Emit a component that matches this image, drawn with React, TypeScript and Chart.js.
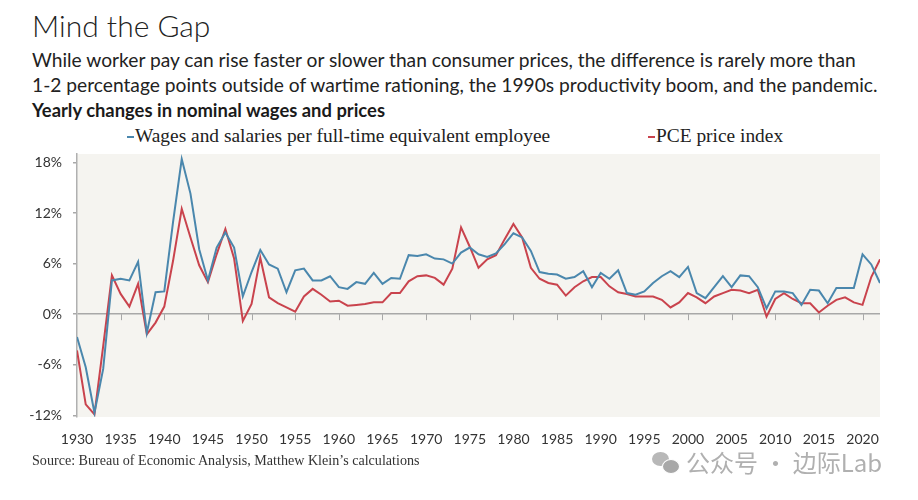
import React, { useEffect, useRef } from "react";
import { Chart, registerables } from "chart.js";

Chart.register(...registerables);

const years = [
  1930, 1931, 1932, 1933, 1934, 1935, 1936, 1937, 1938, 1939,
  1940, 1941, 1942, 1943, 1944, 1945, 1946, 1947, 1948, 1949,
  1950, 1951, 1952, 1953, 1954, 1955, 1956, 1957, 1958, 1959,
  1960, 1961, 1962, 1963, 1964, 1965, 1966, 1967, 1968, 1969,
  1970, 1971, 1972, 1973, 1974, 1975, 1976, 1977, 1978, 1979,
  1980, 1981, 1982, 1983, 1984, 1985, 1986, 1987, 1988, 1989,
  1990, 1991, 1992, 1993, 1994, 1995, 1996, 1997, 1998, 1999,
  2000, 2001, 2002, 2003, 2004, 2005, 2006, 2007, 2008, 2009,
  2010, 2011, 2012, 2013, 2014, 2015, 2016, 2017, 2018, 2019,
  2020, 2021, 2022,
];

const wages = [
  -2.7, -6.3, -11.7, -6.5, 4.0, 4.2, 4.0, 6.2, -2.2, 2.6,
  2.7, 10.9, 18.4, 14.3, 7.7, 4.0, 7.9, 9.7, 7.9, 2.1,
  5.0, 7.6, 5.9, 5.4, 2.6, 5.2, 5.4, 4.0, 4.0, 4.5,
  3.2, 3.0, 3.8, 3.6, 4.9, 3.6, 4.3, 4.2, 7.0, 6.9,
  7.1, 6.6, 6.5, 6.0, 7.3, 7.9, 7.1, 6.8, 7.2, 8.3,
  9.6, 9.1, 7.5, 5.0, 4.8, 4.7, 4.2, 4.4, 5.1, 3.2,
  4.9, 4.2, 5.2, 2.5, 2.3, 2.7, 3.7, 4.5, 5.1, 4.4,
  5.6, 2.5, 1.9, 3.2, 4.5, 3.2, 4.6, 4.5, 3.2, 0.7,
  2.7, 2.7, 2.5, 1.1, 2.9, 2.8, 1.3, 3.1, 3.1, 3.1,
  7.1, 5.9, 3.7,
];

const pce = [
  -4.3, -10.7, -11.9, -3.8, 4.6, 2.4, 0.9, 3.6, -2.4, -1.0,
  0.9, 6.3, 12.5, 9.1, 5.8, 3.8, 7.1, 10.1, 6.6, -0.8,
  1.2, 6.7, 2.0, 1.3, 0.8, 0.3, 2.1, 3.0, 2.3, 1.5,
  1.6, 1.0, 1.1, 1.2, 1.4, 1.4, 2.5, 2.5, 3.9, 4.5,
  4.6, 4.3, 3.5, 5.4, 10.3, 8.0, 5.5, 6.5, 7.0, 8.9,
  10.7, 9.1, 5.5, 4.2, 3.7, 3.5, 2.2, 3.2, 3.9, 4.4,
  4.4, 3.3, 2.6, 2.4, 2.1, 2.1, 2.1, 1.7, 0.8, 1.4,
  2.5, 2.0, 1.3, 2.1, 2.5, 2.9, 2.8, 2.5, 2.9, -0.3,
  1.8, 2.5, 1.8, 1.3, 1.3, 0.2, 1.0, 1.7, 2.0, 1.4,
  1.1, 4.4, 6.5,
];

const xTicks = [
  1930, 1935, 1940, 1945, 1950, 1955, 1960, 1965, 1970, 1975,
  1980, 1985, 1990, 1995, 2000, 2005, 2010, 2015, 2020,
];
const yTicks = [-12, -6, 0, 6, 12, 18];

const seriesNames = [
  "Wages and salaries per full-time equivalent employee",
  "PCE price index",
];
const BLUE = "#4a87ad";
const RED = "#c9434d";

const SANS = "Lato, 'Open Sans', sans-serif";
const SERIF = "'Liberation Serif', 'DejaVu Serif', serif";

export default function App() {
  const ref = useRef<HTMLCanvasElement | null>(null);

  useEffect(() => {
    const canvas = ref.current;
    if (!canvas) return;

    const bgPlugin = {
      id: "plotBg",
      beforeDraw(chart: any) {
        const { ctx, chartArea: a } = chart;
        ctx.save();
        ctx.fillStyle = "#f5f4f0";
        ctx.fillRect(a.left, a.top, a.right - a.left, a.bottom - a.top);
        ctx.restore();
      },
    };

    const zeroTickPlugin = {
      id: "zeroTicks",
      beforeDatasetsDraw(chart: any) {
        const { ctx } = chart;
        const xs = chart.scales.x;
        const ys = chart.scales.y;
        const y0 = ys.getPixelForValue(0);
        ctx.save();
        ctx.strokeStyle = "#a8a8a8";
        ctx.lineWidth = 1;
        ctx.beginPath();
        xTicks.forEach((t) => {
          if (t === xTicks[0]) return;
          const px = Math.round(xs.getPixelForValue(t)) + 0.5;
          ctx.moveTo(px, y0);
          ctx.lineTo(px, y0 + 6);
        });
        ctx.stroke();
        ctx.restore();
      },
    };

    const chart = new Chart(canvas, {
      type: "line",
      data: {
        datasets: [
          {
            label: seriesNames[0],
            data: years.map((yr, i) => ({ x: yr, y: wages[i] })),
            borderColor: BLUE,
            backgroundColor: BLUE,
            borderWidth: 2,
            pointRadius: 0,
            tension: 0,
          },
          {
            label: seriesNames[1],
            data: years.map((yr, i) => ({ x: yr, y: pce[i] })),
            borderColor: RED,
            backgroundColor: RED,
            borderWidth: 2,
            pointRadius: 0,
            tension: 0,
          },
        ],
      },
      options: {
        animation: false,
        responsive: false,
        maintainAspectRatio: false,
        layout: { padding: { top: 6, right: 30, left: 0, bottom: 0 } },
        plugins: {
          legend: { display: false },
          tooltip: { enabled: false },
        },
        scales: {
          x: {
            type: "linear",
            min: 1930,
            max: 2022,
            afterBuildTicks: (s: any) => {
              s.ticks = xTicks.map((v) => ({ value: v }));
            },
            afterFit: (s: any) => {
              s.height = 41;
              s.paddingLeft = 0;
              s.paddingRight = 0;
            },
            grid: { display: false },
            border: { display: false },
            ticks: {
              padding: 6,
              autoSkip: false,
              maxRotation: 0,
              color: "#333",
              font: { family: SANS, size: 14 },
              callback: (v: any) => String(v),
            },
          },
          y: {
            type: "linear",
            min: -12.2,
            max: 19,
            afterBuildTicks: (s: any) => {
              s.ticks = yTicks.map((v) => ({ value: v }));
            },
            afterFit: (s: any) => {
              s.width = 69;
              s.paddingTop = 0;
              s.paddingBottom = 0;
            },
            grid: {
              drawOnChartArea: true,
              drawTicks: true,
              tickLength: 4,
              lineWidth: 1.5,
              color: (c: any) =>
                c.tick && c.tick.value === 0 ? "#a8a8a8" : "rgba(0,0,0,0)",
              tickColor: "#a8a8a8",
            },
            border: { display: true, color: "#b0b0b0", width: 1.5 },
            ticks: {
              padding: 11,
              color: "#333",
              font: { family: SANS, size: 14 },
              callback: (v: any) => `${v}%`,
            },
          },
        },
      },
      plugins: [bgPlugin, zeroTickPlugin],
    });

    return () => chart.destroy();
  }, []);

  const dash = (color: string) => (
    <span
      style={{
        display: "inline-block",
        width: 7,
        height: 2,
        background: color,
        verticalAlign: "middle",
        marginRight: 1,
        marginBottom: 2,
      }}
    />
  );

  return (
    <div
      style={{
        position: "relative",
        width: 902,
        height: 484,
        background: "#fff",
        color: "#222",
        fontFamily: SANS,
      }}
    >
      <div
        style={{
          position: "absolute",
          left: 24,
          top: 0,
          fontSize: 30,
          fontWeight: 300,
          lineHeight: "34px",
          whiteSpace: "nowrap",
          color: "#222",
        }}
      >
        Mind the Gap
      </div>
      <div
        style={{
          position: "absolute",
          left: 24,
          top: 39,
          fontSize: 19.2,
          lineHeight: "25px",
          whiteSpace: "nowrap",
          color: "#222",
        }}
      >
        <div>
          While worker pay can rise faster or slower than consumer prices, the
          difference is rarely more than
        </div>
        <div>
          1-2 percentage points outside of wartime rationing, the 1990s
          productivity boom, and the pandemic.
        </div>
      </div>
      <div
        style={{
          position: "absolute",
          left: 24,
          top: 90,
          fontSize: 18.4,
          fontWeight: 700,
          lineHeight: "24px",
          whiteSpace: "nowrap",
          color: "#1a1a1a",
        }}
      >
        Yearly changes in nominal wages and prices
      </div>
      <div
        style={{
          position: "absolute",
          left: 119,
          top: 116,
          fontFamily: SERIF,
          fontSize: 19.4,
          lineHeight: "24px",
          whiteSpace: "nowrap",
          color: "#222",
        }}
      >
        {dash(BLUE)}
        {seriesNames[0]}
      </div>
      <div
        style={{
          position: "absolute",
          left: 640,
          top: 116,
          fontFamily: SERIF,
          fontSize: 19.4,
          lineHeight: "24px",
          whiteSpace: "nowrap",
          color: "#222",
        }}
      >
        {dash(RED)}
        {seriesNames[1]}
      </div>
      <canvas
        ref={ref}
        width={902}
        height={310}
        style={{
          position: "absolute",
          left: 0,
          top: 140,
          width: 902,
          height: 310,
        }}
      />
      <div
        style={{
          position: "absolute",
          left: 24,
          top: 443,
          fontFamily: SERIF,
          fontSize: 14.1,
          lineHeight: "18px",
          whiteSpace: "nowrap",
          color: "#333",
        }}
      >
        Source: Bureau of Economic Analysis, Matthew Klein’s calculations
      </div>
      <div
        style={{
          position: "absolute",
          left: 644,
          top: 439,
          display: "flex",
          alignItems: "center",
          whiteSpace: "nowrap",
          color: "#b0b0b0",
          fontFamily: "'Noto Sans CJK SC', sans-serif",
          fontSize: 24,
          lineHeight: "30px",
        }}
      >
        <span
          style={{
            position: "relative",
            display: "inline-block",
            width: 28,
            height: 24,
            marginRight: 6,
          }}
        >
          <span
            style={{
              position: "absolute",
              left: 0,
              top: 2,
              width: 17,
              height: 14,
              borderRadius: "50%",
              background: "#b8b8b8",
            }}
          />
          <span
            style={{
              position: "absolute",
              left: 10,
              top: 9,
              width: 16,
              height: 13,
              borderRadius: "50%",
              background: "#a8a8a8",
              border: "1px solid #fff",
            }}
          />
        </span>
        公众号 · 边际Lab
      </div>
    </div>
  );
}
